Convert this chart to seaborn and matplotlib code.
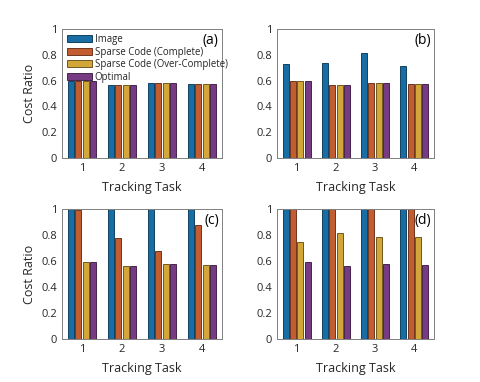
import matplotlib
matplotlib.use("Agg")
import matplotlib.pyplot as plt
import pandas as pd
import seaborn as sns

tasks = ["1", "2", "3", "4"]
methods = ["Image", "Sparse Code (Complete)", "Sparse Code (Over-Complete)", "Optimal"]
colors = ["#0072BD", "#D95319", "#EDB120", "#7E2F8E"]
edges = ["#00304F", "#5E220A", "#5E4608", "#32123A"]

# panel values, one list per method
a_image = [0.595, 0.563, 0.578, 0.575]
a_complete = [0.595, 0.563, 0.578, 0.575]
a_over = [0.595, 0.563, 0.578, 0.575]
a_optimal = [0.595, 0.563, 0.578, 0.575]

b_image = [0.725, 0.74, 0.815, 0.71]
b_complete = [0.595, 0.563, 0.578, 0.575]
b_over = [0.595, 0.563, 0.578, 0.575]
b_optimal = [0.595, 0.563, 0.578, 0.575]

c_image = [1.0, 1.0, 1.0, 1.0]
c_complete = [0.99, 0.775, 0.68, 0.88]
c_over = [0.595, 0.56, 0.578, 0.573]
c_optimal = [0.595, 0.56, 0.578, 0.573]

d_image = [1.0, 1.0, 1.0, 1.0]
d_complete = [1.0, 1.0, 1.0, 1.0]
d_over = [0.75, 0.815, 0.785, 0.785]
d_optimal = [0.595, 0.56, 0.578, 0.573]

panels = [
    ("(a)", [a_image, a_complete, a_over, a_optimal]),
    ("(b)", [b_image, b_complete, b_over, b_optimal]),
    ("(c)", [c_image, c_complete, c_over, c_optimal]),
    ("(d)", [d_image, d_complete, d_over, d_optimal]),
]

sns.set_style("white")
plt.rcParams["font.family"] = ["Open Sans", "DejaVu Sans"]

fig = plt.figure(figsize=(4.8, 3.82), dpi=100)
W, H = 480, 382
# axes boxes in pixels: left, top, right, bottom
boxes = [(62, 29, 222, 158), (277, 29, 434, 158), (62, 209, 222, 339), (277, 209, 434, 339)]

txt = "#262626"
for i, ((lab, series), (l, t, r, b)) in enumerate(zip(panels, boxes)):
    ax = fig.add_axes([l / W, (H - b) / H, (r - l) / W, (b - t) / H])
    rows = []
    for m, vals in zip(methods, series):
        for tk, v in zip(tasks, vals):
            rows.append({"task": tk, "method": m, "value": v})
    df = pd.DataFrame(rows)
    sns.barplot(data=df, x="task", y="value", hue="method", hue_order=methods,
                palette=colors, width=0.75, gap=0.18, ax=ax, legend=(i == 0),
                linewidth=0.6, errorbar=None)
    # dark edge per method
    for cont, ec in zip(ax.containers, edges):
        for p in cont:
            p.set_edgecolor(ec)
    ax.set_ylim(0, 1)
    ax.set_xlim(-0.5, 3.5)
    ax.set_yticks([0, 0.2, 0.4, 0.6, 0.8, 1.0])
    ax.set_yticklabels(["0", "0.2", "0.4", "0.6", "0.8", "1"])
    ax.tick_params(direction="in", length=2.5, labelsize=8, colors=txt, width=0.6)
    for s in ax.spines.values():
        s.set_color("#808080")
        s.set_linewidth(0.7)
    ax.set_xlabel("Tracking Task", fontsize=9, color=txt, labelpad=5)
    if i % 2 == 0:
        ax.set_ylabel("Cost Ratio", fontsize=9, color=txt)
    else:
        ax.set_ylabel("")
    ax.text(0.98, 0.97, lab, transform=ax.transAxes, ha="right", va="top",
            fontsize=10, color="black")
    if i == 0:
        leg = ax.legend(loc="upper left", fontsize=6.9, frameon=False,
                        handlelength=2.6, handleheight=0.72, handletextpad=0.3,
                        labelspacing=0.18, borderaxespad=0.3, borderpad=0.2)
        for h, ec in zip(leg.legend_handles, edges):
            h.set_edgecolor(ec)

fig.savefig("out.png", dpi=100, facecolor="white")
